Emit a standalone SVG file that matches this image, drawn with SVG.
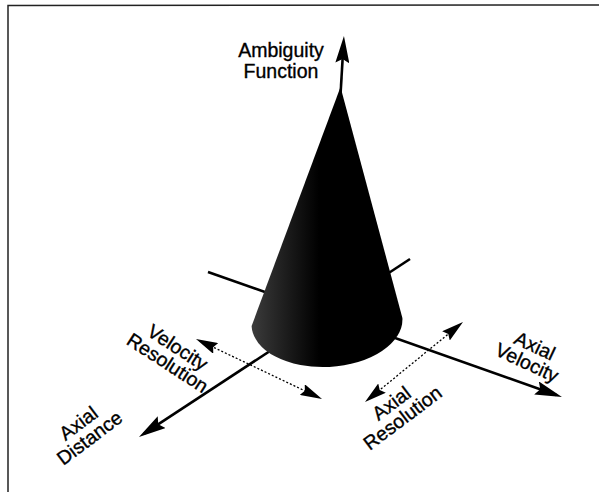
<svg xmlns="http://www.w3.org/2000/svg" width="599" height="492" viewBox="0 0 599 492">
  <style>
    .lbl { font-family: "Liberation Sans", Arial, Helvetica, sans-serif; font-size: 19.5px; fill: #000; stroke: #000; stroke-width: 0.35; text-anchor: middle; }
    .axis { stroke: #000; stroke-width: 2.6; fill: none; }
    .dots { stroke: #000; stroke-width: 1.3; stroke-dasharray: 2 2; fill: none; }
    .frame { stroke: #222; stroke-width: 1.5; fill: none; }
  </style>
  <defs>
    <marker id="ah" markerUnits="userSpaceOnUse" markerWidth="27" markerHeight="14" refX="21" refY="7" orient="auto">
      <path d="M0,0 L27,7 L0,14 L4,7 Z" fill="#000"/>
    </marker>
    <marker id="dh" markerUnits="userSpaceOnUse" markerWidth="22" markerHeight="12" refX="18" refY="6" orient="auto-start-reverse">
      <path d="M0,0 L22,6 L0,12 L3,6 Z" fill="#000"/>
    </marker>
    <linearGradient id="coneShade" gradientUnits="userSpaceOnUse" x1="251" y1="0" x2="402" y2="0">
      <stop offset="0" stop-color="#3c3c3c"/>
      <stop offset="0.22" stop-color="#1e1e1e"/>
      <stop offset="0.45" stop-color="#000"/>
      <stop offset="1" stop-color="#000"/>
    </linearGradient>
  </defs>
  <rect width="599" height="492" fill="#fff"/>
  <g id="frame">
    <path class="frame" d="M8,492 L8,5.5 L599,5"/>
  </g>
  <g id="connectors">
    <line id="axial-velocity-axis" class="axis" x1="208" y1="272" x2="556.3" y2="395" marker-end="url(#ah)"/>
    <line id="axial-distance-axis" class="axis" x1="410" y1="259" x2="144" y2="433.7" marker-end="url(#ah)"/>
  </g>
  <g id="cone">
    <path d="M340.5,87 L251.6,326 A75.5,45 -3 0 0 402.4,318 Z" fill="url(#coneShade)"/>
  </g>
  <g id="connectors-front">
    <line id="ambiguity-axis" class="axis" x1="340.5" y1="95" x2="343.6" y2="42" marker-end="url(#ah)"/>
    <line id="velocity-resolution" class="dots" x1="199.6" y1="340.7" x2="318.4" y2="397.3" marker-start="url(#dh)" marker-end="url(#dh)"/>
    <line id="axial-resolution" class="dots" x1="459.9" y1="324.5" x2="368.1" y2="399.5" marker-start="url(#dh)" marker-end="url(#dh)"/>
  </g>
  <g id="label-ambiguity">
    <text class="lbl" x="281" y="56.5">Ambiguity</text>
    <text class="lbl" x="281" y="77.5">Function</text>
  </g>
  <g id="label-velocity-resolution" transform="translate(174,353) rotate(33)">
    <text class="lbl" x="0" y="0">Velocity</text>
    <text class="lbl" x="0" y="18.5">Resolution</text>
  </g>
  <g id="label-axial-distance" transform="translate(82.5,428.5) rotate(-37)">
    <text class="lbl" x="0" y="0">Axial</text>
    <text class="lbl" x="0" y="18.5">Distance</text>
  </g>
  <g id="label-axial-resolution" transform="translate(395.5,408.5) rotate(-37)">
    <text class="lbl" x="0" y="0">Axial</text>
    <text class="lbl" x="0" y="18.5">Resolution</text>
  </g>
  <g id="label-axial-velocity" transform="translate(532,352) rotate(25)">
    <text class="lbl" x="0" y="0">Axial</text>
    <text class="lbl" x="0" y="18.5">Velocity</text>
  </g>
</svg>
